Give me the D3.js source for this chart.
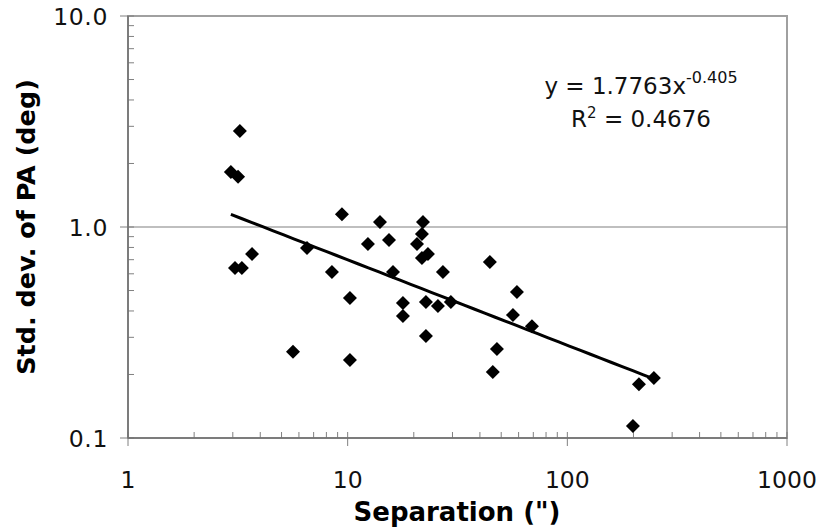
<!DOCTYPE html>
<html>
<head>
<meta charset="utf-8">
<script src="https://cdn.jsdelivr.net/npm/d3@7"></script>
<style>
  body { margin: 0; background: #fff; }
  text { font-family: "DejaVu Sans", Verdana, sans-serif; }
</style>
</head>
<body>
<div id="chart"></div>
<script>
// separation (") and std. dev. of PA (deg)
var separation = [2.94, 3.17, 3.23, 3.07, 3.30, 3.67, 6.53, 5.64, 8.48, 9.42,
  10.24, 10.24, 12.37, 14.03, 15.42, 16.08, 17.85, 17.85, 20.68, 21.78,
  22.02, 21.78, 23.2, 22.72, 22.72, 25.76, 27.15, 29.5, 44.4, 47.8,
  45.8, 58.97, 56.55, 69.0, 211.8, 247.8, 198.9];
var stdDev = [1.82, 1.73, 2.85, 0.64, 0.64, 0.745, 0.795, 0.256, 0.612, 1.15,
  0.461, 0.234, 0.830, 1.056, 0.868, 0.612, 0.436, 0.379, 0.830, 0.926,
  1.056, 0.713, 0.745, 0.441, 0.304, 0.422, 0.612, 0.441, 0.683, 0.264,
  0.2055, 0.492, 0.383, 0.339, 0.180, 0.1925, 0.114];

var xTicks = [1, 10, 100, 1000];
var yTicks = [0.1, 1, 10];

// power-law trend fit shown on the chart
var fitA = 1.7763, fitB = -0.405, fitR2 = "0.4676";

var margin = {top: 16, right: 35, bottom: 93, left: 128},
    width = 822 - margin.left - margin.right,
    height = 531 - margin.top - margin.bottom;

var svg = d3.select("#chart")
  .append("svg")
    .attr("width", 822)
    .attr("height", 531)
  .append("g")
    .attr("transform", "translate(" + margin.left + "," + margin.top + ")");

var x = d3.scaleLog().domain([1, 1000]).range([0, width]);
var y = d3.scaleLog().domain([0.1, 10]).range([height, 0]);

// plot border
svg.append("rect")
  .attr("width", width)
  .attr("height", height)
  .attr("fill", "none")
  .attr("stroke", "#a0a0a0")
  .attr("stroke-width", 2);

// gridline at 1.0
svg.append("line")
  .attr("x1", 0).attr("x2", width)
  .attr("y1", y(1)).attr("y2", y(1))
  .attr("stroke", "#808080")
  .attr("stroke-width", 1.2);

// minor ticks
var xMinor = [], yMinor = [];
[1, 10, 100].forEach(function(d) {
  for (var k = 2; k <= 9; k++) xMinor.push(d * k);
});
[0.1, 1].forEach(function(d) {
  for (var k = 2; k <= 9; k++) yMinor.push(d * k);
});

svg.selectAll(".xminor")
  .data(xMinor)
  .enter().append("line")
    .attr("x1", function(d) { return x(d); })
    .attr("x2", function(d) { return x(d); })
    .attr("y1", height).attr("y2", height - 6)
    .attr("stroke", "#808080");

svg.selectAll(".yminor")
  .data(yMinor)
  .enter().append("line")
    .attr("y1", function(d) { return y(d); })
    .attr("y2", function(d) { return y(d); })
    .attr("x1", 0).attr("x2", 6)
    .attr("stroke", "#808080");

// major ticks
svg.selectAll(".xmajor")
  .data(xTicks)
  .enter().append("line")
    .attr("x1", function(d) { return x(d); })
    .attr("x2", function(d) { return x(d); })
    .attr("y1", height - 6).attr("y2", height + 8)
    .attr("stroke", "#808080");

svg.selectAll(".ymajor")
  .data(yTicks)
  .enter().append("line")
    .attr("y1", function(d) { return y(d); })
    .attr("y2", function(d) { return y(d); })
    .attr("x1", -8).attr("x2", 6)
    .attr("stroke", "#808080");

// axis lines
svg.append("line")
  .attr("x1", 0).attr("x2", width)
  .attr("y1", height).attr("y2", height)
  .attr("stroke", "#707070").attr("stroke-width", 1.5);
svg.append("line")
  .attr("x1", 0).attr("x2", 0)
  .attr("y1", 0).attr("y2", height)
  .attr("stroke", "#707070").attr("stroke-width", 1.5);

// tick labels
svg.selectAll(".xlab")
  .data(xTicks)
  .enter().append("text")
    .attr("x", function(d) { return x(d); })
    .attr("y", height + 50)
    .attr("text-anchor", "middle")
    .style("font-size", "23.5px")
    .attr("fill", "#111")
    .text(function(d) { return d; });

svg.selectAll(".ylab")
  .data(yTicks)
  .enter().append("text")
    .attr("x", -20)
    .attr("y", function(d) { return y(d) + 8.5; })
    .attr("text-anchor", "end")
    .style("font-size", "23.5px")
    .style("letter-spacing", "0.6px")
    .attr("fill", "#111")
    .text(function(d) { return d3.format(".1f")(d); });

// axis titles
svg.append("text")
  .attr("x", 457 - margin.left)
  .attr("y", 521 - margin.top)
  .attr("text-anchor", "middle")
  .style("font-size", "26px")
  .style("font-weight", "bold")
  .text("Separation (\")");

svg.append("text")
  .attr("transform", "translate(" + (35 - margin.left) + "," + (227 - margin.top) + ")rotate(-90)")
  .attr("text-anchor", "middle")
  .style("font-size", "25.5px")
  .style("font-weight", "bold")
  .text("Std. dev. of PA (deg)");

// trend line
var xs = d3.extent(separation);
var fitPts = d3.range(0, 41).map(function(i) {
  var v = Math.exp(Math.log(xs[0]) + (Math.log(xs[1]) - Math.log(xs[0])) * i / 40);
  return [v, fitA * Math.pow(v, fitB)];
});
svg.append("path")
  .datum(fitPts)
  .attr("fill", "none")
  .attr("stroke", "#000")
  .attr("stroke-width", 3)
  .attr("d", d3.line()
    .x(function(d) { return x(d[0]); })
    .y(function(d) { return y(d[1]); }));

// diamonds
var s = 7;
svg.selectAll(".pt")
  .data(separation)
  .enter().append("path")
    .attr("transform", function(d, i) {
      return "translate(" + x(d) + "," + y(stdDev[i]) + ")";
    })
    .attr("d", "M0," + (-s) + "L" + s + ",0L0," + s + "L" + (-s) + ",0Z")
    .attr("fill", "#000");

// equation label
var eq = svg.append("text")
  .attr("x", 641 - margin.left)
  .attr("y", 94 - margin.top)
  .attr("text-anchor", "middle")
  .style("font-size", "23px")
  .attr("fill", "#111");
eq.append("tspan").text("y = " + fitA + "x");
eq.append("tspan").attr("dy", -11).style("font-size", "16px").text(fitB);

var r2 = svg.append("text")
  .attr("x", 641 - margin.left)
  .attr("y", 127 - margin.top)
  .attr("text-anchor", "middle")
  .style("font-size", "23px")
  .attr("fill", "#111");
r2.append("tspan").text("R");
r2.append("tspan").attr("dy", -9).style("font-size", "15px").text("2");
r2.append("tspan").attr("dy", 9).text(" = " + fitR2);
</script>
</body>
</html>
